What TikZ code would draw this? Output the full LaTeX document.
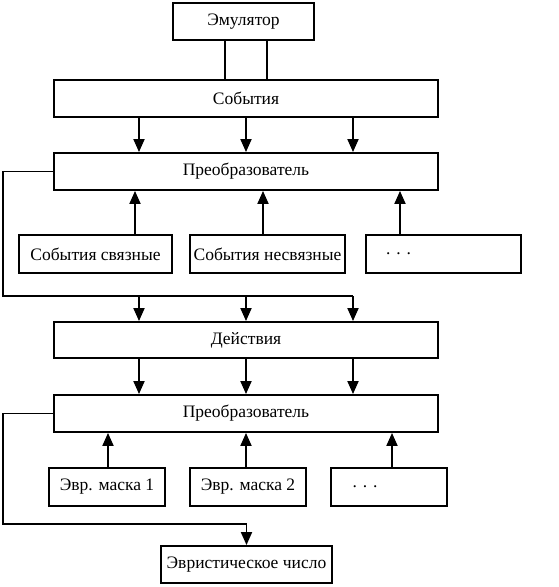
\documentclass[tikz,border=0pt]{standalone}
\usepackage{fontspec}
\setmainfont{Liberation Serif}
\usetikzlibrary{arrows.meta}

\begin{document}
\begin{tikzpicture}[x=1pt, y=-1pt, line width=1.9pt,
  every node/.style={align=center, font=\fontsize{17.5}{20}\selectfont},
  blk/.style={draw, rectangle, inner sep=0pt, minimum height=37},
  arr/.style={-{Triangle[length=13pt,width=11pt]}}]
\useasboundingbox (0,0) rectangle (559,587);
% Draw the blocks
\node[blk, minimum width=141] (emul) at (243.5,21.5) {Эмулятор};
\node[blk, minimum width=384] (events) at (246,98.5) {События};
\node[blk, minimum width=384] (conv1) at (246,171.5) {Преобразователь};
\node[blk, minimum width=153, minimum height=38] (linked) at (95.5,254) {События связные};
\node[blk, minimum width=155, minimum height=38] (unlinked) at (267.5,254) {События несвязные};
\node[blk, minimum width=155, minimum height=38] (more1) at (443.5,254) {. . .\hspace*{90pt}};
\node[blk, minimum width=384, minimum height=36] (actions) at (246,340) {Действия};
\node[blk, minimum width=384] (conv2) at (246,413.5) {Преобразователь};
\node[blk, minimum width=116, minimum height=38] (mask1) at (107,487) {Эвр. маска 1};
\node[blk, minimum width=116, minimum height=38] (mask2) at (248,487) {Эвр. маска 2};
\node[blk, minimum width=116, minimum height=38] (more2) at (389,487) {. . .\hspace*{48pt}};
\node[blk, minimum width=171] (heur) at (246.5,564.5) {Эвристическое число};
\coordinate (bus1) at (3,296);
\coordinate (bus2) at (3,524);

% Draw connectors
\foreach \x in {225,267} \draw (\x,0 |- emul.south) -- (\x,0 |- events.north);
\foreach \x in {139,246,353} \draw[arr] (\x,0 |- events.south) -- (\x,0 |- conv1.north);
\draw[arr] (135,0 |- linked.north) -- (135,0 |- conv1.south);
\draw[arr] (263,0 |- unlinked.north) -- (263,0 |- conv1.south);
\draw[arr] (400,0 |- more1.north) -- (400,0 |- conv1.south);
\draw (conv1.west) -| (bus1) -- (353,0 |- bus1);
\foreach \x in {139,246,353} \draw[arr] (\x,0 |- bus1) -- (\x,0 |- actions.north);
\foreach \x in {139,246,353} \draw[arr] (\x,0 |- actions.south) -- (\x,0 |- conv2.north);
\draw[arr] (108,0 |- mask1.north) -- (108,0 |- conv2.south);
\draw[arr] (246,0 |- mask2.north) -- (246,0 |- conv2.south);
\draw[arr] (392,0 |- more2.north) -- (392,0 |- conv2.south);
\draw[arr] (conv2.west) -| (bus2) -| (heur.north);
\end{tikzpicture}
\end{document}
